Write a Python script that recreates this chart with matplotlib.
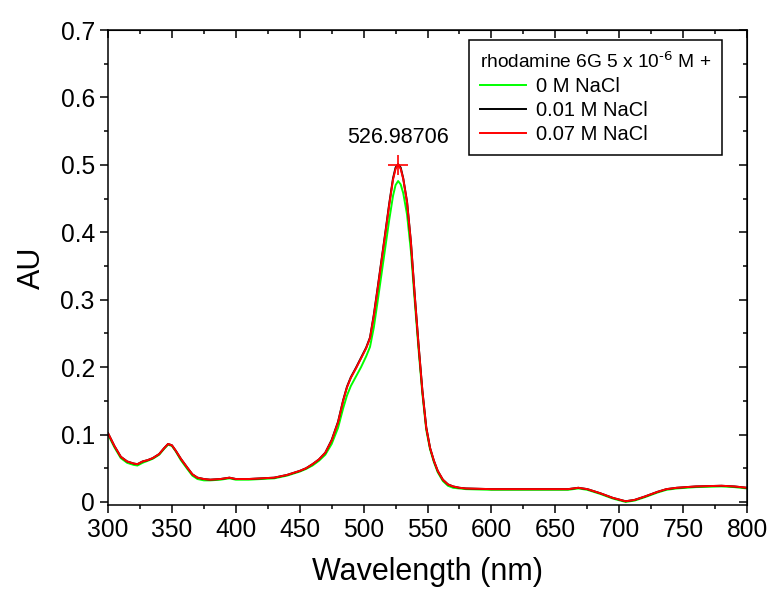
import matplotlib.pyplot as plt

plt.rcParams['font.family'] = ['Liberation Sans', 'DejaVu Sans']
plt.rcParams['mathtext.default'] = 'regular'

# absorbance spectra, wavelength in nm
wl = [300, 305, 310, 315, 320, 323, 327, 331, 335, 340, 344, 347, 350, 353, 357,
      362, 366, 370, 375, 380, 388, 395, 400, 410, 420, 430, 440, 450, 455, 460,
      465, 470, 475, 480, 484, 487, 490, 494, 498, 502, 505, 508, 511, 514, 517,
      520, 523, 525, 527, 529, 531, 534, 537, 540, 543, 546, 549, 552, 555, 558,
      562, 566, 570, 575, 580, 600, 620, 640, 660, 668, 675, 685, 695, 705, 712,
      720, 730, 737, 745, 760, 780, 790, 800]

au_0 = [0.100, 0.081, 0.065, 0.058, 0.055, 0.054, 0.058, 0.061, 0.064, 0.070, 0.079, 0.085, 0.083, 0.075, 0.062,
        0.049, 0.039, 0.034, 0.032, 0.032, 0.033, 0.035, 0.033, 0.033, 0.034, 0.035, 0.039, 0.045, 0.049, 0.054,
        0.061, 0.070, 0.086, 0.110, 0.139, 0.158, 0.172, 0.186, 0.200, 0.216, 0.230, 0.259, 0.298, 0.338, 0.378,
        0.418, 0.454, 0.470, 0.476, 0.471, 0.458, 0.426, 0.372, 0.298, 0.226, 0.160, 0.107, 0.078, 0.059, 0.044,
        0.031, 0.024, 0.021, 0.020, 0.019, 0.018, 0.018, 0.018, 0.018, 0.020, 0.018, 0.012, 0.005, 0.000, 0.002,
        0.007, 0.014, 0.018, 0.020, 0.022, 0.023, 0.022, 0.020]

au_001 = [0.102, 0.083, 0.067, 0.060, 0.057, 0.056, 0.060, 0.062, 0.065, 0.071, 0.080, 0.086, 0.084, 0.076, 0.064,
          0.051, 0.041, 0.036, 0.034, 0.033, 0.034, 0.036, 0.034, 0.034, 0.035, 0.036, 0.040, 0.046, 0.050, 0.056,
          0.063, 0.073, 0.092, 0.119, 0.151, 0.171, 0.185, 0.199, 0.214, 0.229, 0.244, 0.278, 0.318, 0.359, 0.400,
          0.442, 0.480, 0.496, 0.501, 0.496, 0.480, 0.445, 0.386, 0.307, 0.233, 0.165, 0.111, 0.080, 0.061, 0.046,
          0.033, 0.026, 0.023, 0.021, 0.020, 0.019, 0.019, 0.019, 0.019, 0.021, 0.019, 0.013, 0.006, 0.001, 0.003,
          0.008, 0.015, 0.019, 0.021, 0.023, 0.024, 0.023, 0.021]

au_007 = [0.102, 0.083, 0.067, 0.060, 0.057, 0.056, 0.060, 0.062, 0.065, 0.071, 0.080, 0.086, 0.084, 0.076, 0.064,
          0.051, 0.041, 0.036, 0.034, 0.033, 0.034, 0.036, 0.034, 0.034, 0.035, 0.036, 0.040, 0.046, 0.050, 0.056,
          0.063, 0.073, 0.091, 0.118, 0.150, 0.170, 0.184, 0.198, 0.213, 0.228, 0.243, 0.276, 0.316, 0.357, 0.398,
          0.440, 0.478, 0.494, 0.500, 0.494, 0.479, 0.444, 0.385, 0.306, 0.232, 0.164, 0.110, 0.080, 0.061, 0.046,
          0.033, 0.026, 0.023, 0.021, 0.020, 0.019, 0.019, 0.019, 0.019, 0.021, 0.019, 0.013, 0.006, 0.001, 0.003,
          0.008, 0.015, 0.019, 0.021, 0.023, 0.024, 0.023, 0.021]

peak_wl = 526.98706
peak_au = 0.500

yt = [0, 0.1, 0.2, 0.3, 0.4, 0.5, 0.6, 0.7]
yt_minor = [0.05, 0.15, 0.25, 0.35, 0.45, 0.55, 0.65]

fig = plt.figure(figsize=(7.71, 5.92), dpi=100)
ax = fig.add_axes([0.1401, 0.1470, 0.8288, 0.8023])

ax.plot(wl, au_0, color='#00ff00', lw=1.4, label='0 M NaCl')
ax.plot(wl, au_001, color='black', lw=1.4, label='0.01 M NaCl')
ax.plot(wl, au_007, color='red', lw=1.4, label='0.07 M NaCl')

# peak marker with its wavelength
ax.plot([peak_wl], [peak_au], marker='+', color='red', markersize=15, markeredgewidth=1.2)
ax.text(peak_wl, 0.540, f'{peak_wl:.5f}', ha='center', va='center', fontsize=15.5)

ax.set_xlim(300, 800)
ax.set_ylim(-0.0045, 0.7)
ax.set_xticks(range(300, 801, 50))
ax.set_xticks(range(325, 800, 50), minor=True)
ax.set_yticks(yt)
ax.set_yticklabels(['0', '0.1', '0.2', '0.3', '0.4', '0.5', '0.6', '0.7'])
ax.set_yticks(yt_minor, minor=True)
ax.tick_params(which='major', direction='out', length=6, width=1.1, labelsize=17.7)
ax.tick_params(which='minor', direction='out', length=3, width=1.1)
for s in ax.spines.values():
    s.set_linewidth(1.1)

# mirrored ticks on top and right, pointing inward
top = ax.secondary_xaxis('top')
top.set_xticks(range(300, 801, 50))
top.set_xticks(range(325, 800, 50), minor=True)
top.tick_params(which='major', direction='in', length=6, width=1.1, labeltop=False)
top.tick_params(which='minor', direction='in', length=3, width=1.1)
right = ax.secondary_yaxis('right')
right.set_yticks(yt)
right.set_yticks(yt_minor, minor=True)
right.tick_params(which='major', direction='in', length=6, width=1.1, labelright=False)
right.tick_params(which='minor', direction='in', length=3, width=1.1)

ax.set_xlabel('Wavelength (nm)', fontsize=22, labelpad=11)
ax.set_ylabel('AU', fontsize=22, labelpad=10)

leg = ax.legend(title=r'rhodamine 6G 5 x 10$^{\text{-6}}$ M +', loc='upper right',
                bbox_to_anchor=(0.961, 0.979), fontsize=14.5, title_fontsize=13.8,
                fancybox=False, edgecolor='black', framealpha=1,
                handlelength=2.3, handletextpad=0.5, labelspacing=0.25,
                borderpad=0.55, borderaxespad=0, alignment='left')
leg.get_frame().set_linewidth(1.1)

fig.savefig('out.png', dpi=100)
